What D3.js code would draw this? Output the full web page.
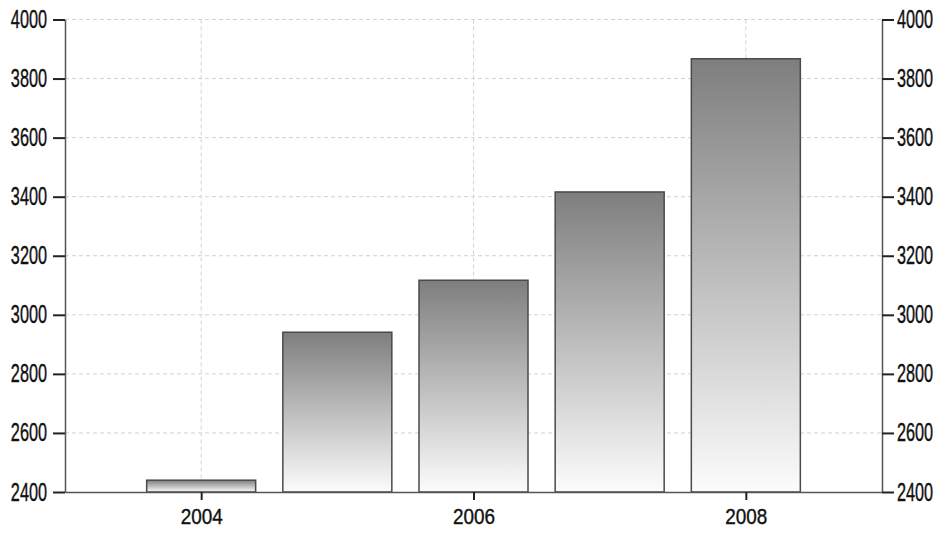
<!DOCTYPE html>
<html>
<head>
<meta charset="utf-8">
<script src="https://cdn.jsdelivr.net/npm/d3@7"></script>
<style>
  body { margin: 0; background: #fff; }
  svg text { font-family: "Liberation Sans", Arial, sans-serif; fill: #111; }
</style>
</head>
<body>
<svg id="chart"></svg>
<script>
const years = [2004, 2005, 2006, 2007, 2008];
const values = [2440, 2941, 3117, 3416, 3867];
const yTicks = [2400, 2600, 2800, 3000, 3200, 3400, 3600, 3800, 4000];
const xTicks = [2004, 2006, 2008];

const width = 942;
const height = 536;
const plotLeft = 65, plotRight = 882, plotTop = 19.5, plotBottom = 492;

const svg = d3.select("#chart")
    .attr("width", width)
    .attr("height", height);

const xScale = d3.scaleLinear()
    .domain([2003, 2009])
    .range([plotLeft, plotRight]);
const yScale = d3.scaleLinear()
    .domain([2400, 4000])
    .range([plotBottom, plotTop]);

const barWidth = 109;

// gradient for the bars
const grad = svg.append("defs")
    .append("linearGradient")
    .attr("id", "barGrad")
    .attr("x1", 0).attr("y1", 0)
    .attr("x2", 0).attr("y2", 1);
grad.append("stop").attr("offset", "0%").attr("stop-color", "#7e7e7e");
grad.append("stop").attr("offset", "100%").attr("stop-color", "#fcfcfc");

// grid lines
svg.append("g")
    .selectAll("line")
    .data(yTicks.slice(1))
    .enter()
    .append("line")
        .attr("x1", plotLeft).attr("x2", plotRight)
        .attr("y1", d => yScale(d)).attr("y2", d => yScale(d))
        .attr("stroke", "#d2d2d2")
        .attr("stroke-dasharray", "4,3");
svg.append("g")
    .selectAll("line")
    .data(xTicks)
    .enter()
    .append("line")
        .attr("x1", d => xScale(d)).attr("x2", d => xScale(d))
        .attr("y1", plotTop).attr("y2", plotBottom)
        .attr("stroke", "#d2d2d2")
        .attr("stroke-dasharray", "4,3");

// bars
svg.append("g")
    .selectAll("rect")
    .data(years)
    .enter()
    .append("rect")
        .attr("x", d => xScale(d) - barWidth / 2)
        .attr("width", barWidth)
        .attr("y", (d, i) => yScale(values[i]))
        .attr("height", (d, i) => plotBottom - yScale(values[i]))
        .attr("fill", "url(#barGrad)")
        .attr("stroke", "#4a4a4a")
        .attr("stroke-width", 1.5);

// axes
const fmt = d3.format("d");
const yAxisL = d3.axisLeft(yScale).tickValues(yTicks).tickFormat(fmt).tickSize(12).tickPadding(6).tickSizeOuter(0);
const yAxisR = d3.axisRight(yScale).tickValues(yTicks).tickFormat(fmt).tickSize(12).tickPadding(3).tickSizeOuter(0);
const xAxis = d3.axisBottom(xScale).tickValues(xTicks).tickFormat(fmt).tickSize(8).tickPadding(8).tickSizeOuter(0);

// squeeze the labels horizontally like the narrow font of the original
function styleAxis(fontSize, sx) {
    return g => {
        g.select(".domain").attr("stroke", "#555").attr("stroke-width", 1.5);
        g.selectAll(".tick line").attr("stroke", "#222").attr("stroke-width", 2);
        g.selectAll(".tick text")
            .attr("font-size", fontSize)
            .attr("fill", "#111")
            .attr("stroke", "#111")
            .attr("stroke-width", 0.4)
            .each(function() {
                const t = d3.select(this);
                t.attr("x", (+t.attr("x") || 0) / sx)
                 .attr("transform", "scale(" + sx + ",1)");
            });
    };
}

svg.append("g")
    .attr("transform", "translate(" + plotLeft + ",0)")
    .call(yAxisL)
    .call(styleAxis(25, 0.65));
svg.append("g")
    .attr("transform", "translate(" + plotRight + ",0)")
    .call(yAxisR)
    .call(styleAxis(25, 0.65));
svg.append("g")
    .attr("transform", "translate(0," + plotBottom + ")")
    .call(xAxis)
    .call(styleAxis(22, 0.86));
</script>
</body>
</html>
